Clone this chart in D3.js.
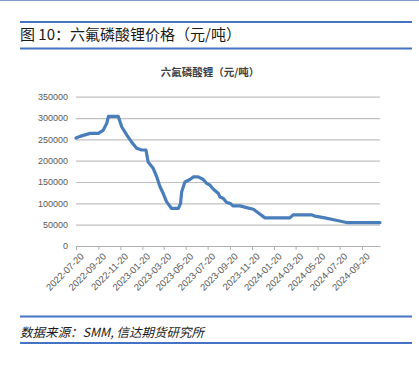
<!DOCTYPE html>
<html>
<head>
<meta charset="UTF-8">
<title>六氟磷酸锂价格</title>
<style>
    body { margin: 0; background: #fff; }
    svg { display: block; font-family: "Liberation Sans", Arial, sans-serif; }
    .cjk { font-family: "Noto Sans CJK SC", sans-serif; }
</style>
</head>
<body>
<svg id="chart" width="419" height="366"></svg>

<script src="https://d3js.org/d3.v7.min.js"></script>
<script>
    // price series (元/吨)
    const dates = [
        "2022-07-20", "2022-07-31", "2022-08-28", "2022-09-20", "2022-10-03", "2022-10-13",
        "2022-10-18", "2022-11-14", "2022-11-24", "2022-12-08", "2022-12-21", "2023-01-04",
        "2023-01-18", "2023-01-30", "2023-02-05", "2023-02-19", "2023-03-01", "2023-03-10",
        "2023-03-19", "2023-03-28", "2023-04-11", "2023-04-30", "2023-05-06", "2023-05-09",
        "2023-05-18", "2023-06-01", "2023-06-10", "2023-06-24", "2023-07-08", "2023-07-17",
        "2023-07-26", "2023-08-05", "2023-08-19", "2023-08-23", "2023-09-01", "2023-09-11",
        "2023-09-20", "2023-09-29", "2023-10-18", "2023-11-05", "2023-11-24", "2023-12-07",
        "2023-12-26", "2024-03-04", "2024-03-13", "2024-05-03", "2024-05-13", "2024-06-09",
        "2024-07-07", "2024-08-08", "2024-11-09"
    ];
    const prices = [
        253000, 257000, 264000, 264000, 271000, 287000,
        304000, 304000, 279000, 260000, 244000, 229000,
        225000, 225000, 197000, 182000, 162000, 139000,
        123000, 104000, 88000, 88000, 100000, 127000,
        150000, 156000, 162000, 162000, 156000, 147000,
        143000, 133000, 123000, 115000, 112000, 102000,
        100000, 94000, 94000, 90000, 86000, 78000,
        66000, 66000, 73000, 73000, 70000, 66000,
        61000, 55000, 55000
    ];
    const tickLabels = [
        "2022-07-20", "2022-09-20", "2022-11-20", "2023-01-20", "2023-03-20", "2023-05-20",
        "2023-07-20", "2023-09-20", "2023-11-20", "2024-01-20", "2024-03-20", "2024-05-20",
        "2024-07-20", "2024-09-20"
    ];
    const yTicks = [0, 50000, 100000, 150000, 200000, 250000, 300000, 350000];

    const parse = d3.timeParse("%Y-%m-%d");
    const series = dates.map((d, i) => ({ date: parse(d), value: prices[i] }));

    const svg = d3.select("#chart");
    const blue = "#4472c4";

    // page frame lines
    svg.append("line").attr("x1", 0).attr("x2", 419).attr("y1", 0.5).attr("y2", 0.5)
        .attr("stroke", "#7f9cc8").attr("stroke-width", 1);
    [22, 48.5, 316.5, 343].forEach(y => {
        svg.append("line").attr("x1", 20).attr("x2", 412).attr("y1", y).attr("y2", y)
            .attr("stroke", blue).attr("stroke-width", 2);
    });

    svg.append("text").attr("class", "cjk")
        .attr("x", 20).attr("y", 40)
        .attr("font-size", 15).attr("fill", "#1a1a1a")
        .text("图 10：六氟磷酸锂价格（元/吨）");

    svg.append("text").attr("class", "cjk")
        .attr("x", 20).attr("y", 337)
        .attr("font-size", 12.5).attr("font-style", "italic").attr("fill", "#1a1a1a")
        .text("数据来源：SMM, 信达期货研究所");

    // chart title
    svg.append("text").attr("class", "cjk")
        .attr("x", 210).attr("y", 76)
        .attr("text-anchor", "middle")
        .attr("font-size", 10.5).attr("font-weight", "bold").attr("fill", "#404040")
        .text("六氟磷酸锂（元/吨）");

    // scales
    const x = d3.scaleTime()
        .domain([parse("2022-07-20"), parse("2024-11-09")])
        .range([76, 380]);
    const y = d3.scaleLinear()
        .domain([0, 350000])
        .range([246, 96.7]);

    // gridlines + y labels
    const yAxis = svg.append("g")
        .attr("transform", "translate(76,0)")
        .call(d3.axisLeft(y).tickValues(yTicks).tickSize(-304).tickPadding(8).tickFormat(d3.format("d")));
    yAxis.select(".domain").remove();
    yAxis.selectAll(".tick line").attr("stroke", "#c0c0c0").attr("stroke-width", 1.2)
        .filter(d => d === 0).remove();
    yAxis.selectAll(".tick text").attr("fill", "#595959").attr("font-size", 9)
        .attr("font-family", "Liberation Sans, Arial, sans-serif");

    // x axis
    const xAxis = svg.append("g")
        .attr("transform", "translate(0,246)")
        .call(d3.axisBottom(x).tickValues(tickLabels.map(parse)).tickSize(4).tickSizeOuter(0)
            .tickFormat(d3.timeFormat("%Y-%m-%d")));
    xAxis.select(".domain").attr("stroke", "#b0b0b0").attr("stroke-width", 1.2);
    xAxis.selectAll(".tick line").attr("stroke", "#b0b0b0");
    xAxis.selectAll(".tick text")
        .attr("fill", "#595959").attr("font-size", 9.5)
        .attr("font-family", "Liberation Sans, Arial, sans-serif")
        .attr("text-anchor", "end")
        .attr("dy", 0)
        .attr("transform", "translate(3,6) rotate(-45)");

    // price line
    const line = d3.line()
        .x(d => x(d.date))
        .y(d => y(d.value));

    svg.append("path")
        .datum(series)
        .attr("fill", "none")
        .attr("stroke", "#4a7ebb")
        .attr("stroke-width", 3.2)
        .attr("stroke-linejoin", "round")
        .attr("stroke-linecap", "round")
        .attr("d", line);
</script>
</body>
</html>
